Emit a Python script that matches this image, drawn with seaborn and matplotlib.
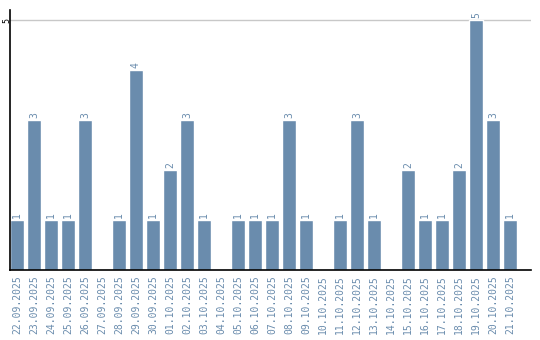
import matplotlib
matplotlib.use("Agg")
import matplotlib.pyplot as plt
import seaborn as sns
import pandas as pd

dates = ["22.09.2025", "23.09.2025", "24.09.2025", "25.09.2025", "26.09.2025",
         "27.09.2025", "28.09.2025", "29.09.2025", "30.09.2025", "01.10.2025",
         "02.10.2025", "03.10.2025", "04.10.2025", "05.10.2025", "06.10.2025",
         "07.10.2025", "08.10.2025", "09.10.2025", "10.10.2025", "11.10.2025",
         "12.10.2025", "13.10.2025", "14.10.2025", "15.10.2025", "16.10.2025",
         "17.10.2025", "18.10.2025", "19.10.2025", "20.10.2025", "21.10.2025"]
counts = [1, 3, 1, 1, 3, 0, 1, 4, 1, 2, 3, 1, 0, 1, 1, 1, 3, 1, 0, 1,
          3, 1, 0, 2, 1, 1, 2, 5, 3, 1]

bar_color = "#6a8cad"
text_color = "#6a8cad"

df = pd.DataFrame({"date": dates, "count": counts})

sns.set_style("white")
fig = plt.figure(figsize=(5.4, 3.4), dpi=100)
ax = fig.add_axes([10 / 540, 70 / 340, 521 / 540, 260 / 340])

sns.barplot(data=df, x="date", y="count", color=bar_color, width=0.82,
            saturation=1, ax=ax, order=dates)

for i, v in enumerate(counts):
    if v > 0:
        ax.text(i, v + 0.04, str(v), rotation=90, ha="center", va="bottom",
                fontsize=7, color=text_color, family="DejaVu Sans Mono")

ax.set_xlim(-0.41, 30.24)
ax.set_ylim(0, 5.2)
ax.set_yticks([5])
ax.set_yticklabels(["5"], rotation=90, va="center", ha="right", fontsize=6,
                   family="DejaVu Sans Mono", color="black")
ax.tick_params(axis="y", length=0, pad=-1)
ax.tick_params(axis="x", length=0, pad=4)
ax.set_xticks(range(len(dates)))
ax.set_xticklabels(dates, rotation=90, fontsize=7, family="DejaVu Sans Mono",
                   color=text_color)
ax.axhline(5, color="#c8c8c8", lw=1, zorder=0)
ax.set_xlabel("")
ax.set_ylabel("")
for s in ["top", "right"]:
    ax.spines[s].set_visible(False)
for s in ["left", "bottom"]:
    ax.spines[s].set_color("black")
    ax.spines[s].set_linewidth(1.2)

fig.savefig("out.png", dpi=100)
